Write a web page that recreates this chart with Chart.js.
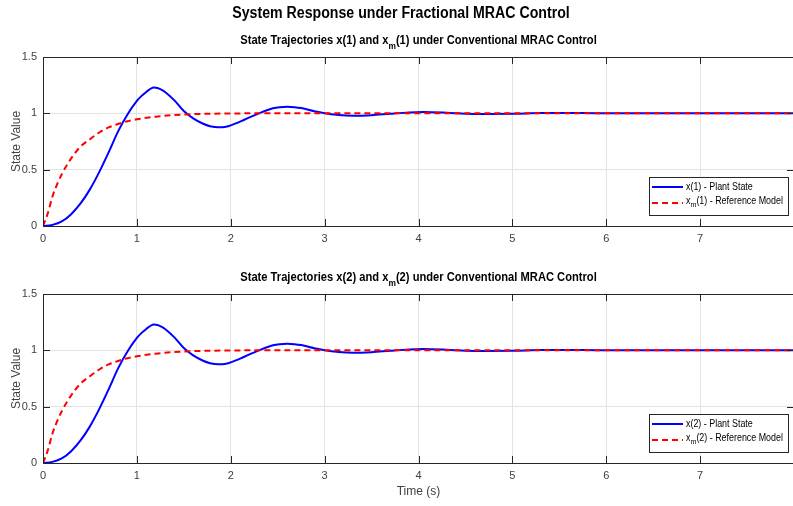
<!DOCTYPE html>
<html>
<head>
<meta charset="utf-8">
<script src="https://cdn.jsdelivr.net/npm/chart.js@4.4.1/dist/chart.umd.min.js"></script>
<style>
  html, body { margin: 0; padding: 0; background: #fff; width: 793px; height: 506px; overflow: hidden; }
  canvas { position: absolute; left: 0; top: 0; }
</style>
</head>
<body>
<canvas id="top" width="800" height="506"></canvas>
<canvas id="bottom" width="800" height="506"></canvas>
<script>
// values
const tPlant = [0, 0.1, 0.2, 0.3, 0.4, 0.5, 0.6, 0.7, 0.8, 0.9, 1.0, 1.05, 1.1, 1.14, 1.18, 1.22, 1.26, 1.3, 1.4, 1.5, 1.6, 1.7, 1.78, 1.87, 1.95, 2.0, 2.15, 2.3, 2.45, 2.52, 2.6, 2.68, 2.75, 2.9, 3.0, 3.15, 3.3, 3.5, 3.7, 3.9, 4.05, 4.3, 4.5, 4.72, 5.0, 5.3, 5.55, 5.9, 6.3, 7.0, 8.0];
const xPlant = [0, 0.01, 0.04, 0.105, 0.2, 0.325, 0.48, 0.655, 0.84, 0.99, 1.11, 1.155, 1.19, 1.215, 1.23, 1.225, 1.21, 1.19, 1.115, 1.02, 0.955, 0.91, 0.886, 0.876, 0.881, 0.893, 0.945, 1.0, 1.045, 1.055, 1.058, 1.055, 1.047, 1.017, 1.0, 0.985, 0.979, 0.984, 0.997, 1.008, 1.011, 1.005, 0.997, 0.994, 0.996, 1.002, 1.003, 1.001, 1.0, 1.0, 1.0];

const tRef = [0, 0.05, 0.1, 0.15, 0.2, 0.3, 0.4, 0.5, 0.6, 0.7, 0.8, 0.9, 1.0, 1.2, 1.4, 1.6, 1.8, 2.0, 2.5, 3.0, 8.0];
const xRef = [0, 0.11, 0.26, 0.37, 0.46, 0.6, 0.705, 0.77, 0.83, 0.875, 0.905, 0.93, 0.947, 0.97, 0.985, 0.993, 0.997, 0.999, 1.0, 1.0, 1.0];

const yTicks = [0, 0.5, 1, 1.5];
const xTicks = [0, 1, 2, 3, 4, 5, 6, 7, 8];

const FONT = '"Liberation Sans", Arial, sans-serif';
const AXIS = '#262626';

const toPoints = (t, v) => t.map((x, i) => ({ x: x, y: v[i] }));

// text with _{..} subscripts, sx squeezes it horizontally
function drawRich(ctx, str, x, y, size, bold, align, sx) {
  const parts = [];
  str.split(/(_\{[^}]*\})/).forEach((s) => {
    if (!s) return;
    if (s.startsWith("_{")) parts.push({ t: s.slice(2, -1), sub: true });
    else parts.push({ t: s, sub: false });
  });
  const font = (sub) => `${bold ? "bold " : ""}${sub ? Math.round(size * 0.78) : size}px ${FONT}`;
  let w = 0;
  parts.forEach((p) => {
    ctx.font = font(p.sub);
    p.w = ctx.measureText(p.t).width;
    w += p.w;
  });
  ctx.save();
  ctx.translate(x, y);
  ctx.scale(sx, 1);
  let cx = align === "center" ? -w / 2 : 0;
  ctx.textAlign = "left";
  ctx.textBaseline = "middle";
  parts.forEach((p) => {
    ctx.font = font(p.sub);
    ctx.fillText(p.t, cx, p.sub ? size * 0.42 : 0);
    cx += p.w;
  });
  ctx.restore();
}

const frame = {
  id: "frame",
  afterDraw(chart, args, opts) {
    const { ctx, chartArea: a, scales } = chart;
    ctx.save();
    ctx.strokeStyle = AXIS;
    ctx.lineWidth = 1;
    ctx.strokeRect(a.left + 0.5, a.top + 0.5, a.right - a.left, a.bottom - a.top);
    const len = 7;
    ctx.beginPath();
    xTicks.forEach((v) => {
      const px = Math.round(scales.x.getPixelForValue(v)) + 0.5;
      ctx.moveTo(px, a.bottom); ctx.lineTo(px, a.bottom - len);
      ctx.moveTo(px, a.top); ctx.lineTo(px, a.top + len);
    });
    yTicks.forEach((v) => {
      const py = Math.round(scales.y.getPixelForValue(v)) + 0.5;
      ctx.moveTo(a.left, py); ctx.lineTo(a.left + len, py);
      ctx.moveTo(a.right, py); ctx.lineTo(a.right - len, py);
    });
    ctx.stroke();

    // titles
    ctx.fillStyle = "#000";
    if (opts.main) drawRich(ctx, opts.main, 401, 14, 16, true, "center", 0.885);
    drawRich(ctx, opts.title, (a.left + a.right) / 2, a.top - 16, 12, true, "center", 0.93);

    // legend
    const lx = 649, ly = a.top + 120, lw = 139, lh = 38;
    ctx.fillStyle = "#fff";
    ctx.fillRect(lx, ly, lw, lh);
    ctx.strokeStyle = "#262626";
    ctx.strokeRect(lx + 0.5, ly + 0.5, lw, lh);
    ctx.lineWidth = 2;
    ctx.strokeStyle = "#0000ff";
    ctx.beginPath(); ctx.moveTo(lx + 3, ly + 10); ctx.lineTo(lx + 34, ly + 10); ctx.stroke();
    ctx.strokeStyle = "#ff0000";
    ctx.setLineDash([6, 4]);
    ctx.beginPath(); ctx.moveTo(lx + 3, ly + 26); ctx.lineTo(lx + 34, ly + 26); ctx.stroke();
    ctx.setLineDash([]);
    ctx.fillStyle = "#000";
    drawRich(ctx, opts.legend[0], lx + 37, ly + 10, 10, false, "left", 0.89);
    drawRich(ctx, opts.legend[1], lx + 37, ly + 24, 10, false, "left", 0.89);
    ctx.restore();
  },
};

function makeChart(id, top, bottom, xHeight, xTitle, frameOpts) {
  return new Chart(document.getElementById(id), {
    type: "line",
    data: {
      datasets: [
        {
          label: frameOpts.legend[1],
          data: toPoints(tRef, xRef),
          borderColor: "#ff0000",
          borderWidth: 2,
          borderDash: [6, 4],
          pointRadius: 0,
          cubicInterpolationMode: "monotone",
          order: 0,
        },
        {
          label: frameOpts.legend[0],
          data: toPoints(tPlant, xPlant),
          borderColor: "#0000ff",
          borderWidth: 2,
          pointRadius: 0,
          cubicInterpolationMode: "monotone",
          order: 1,
        },
      ],
    },
    options: {
      responsive: false,
      animation: false,
      layout: { padding: { top: top, bottom: bottom, left: 0, right: 4 } },
      plugins: { legend: { display: false }, tooltip: { enabled: false }, frame: frameOpts },
      scales: {
        x: {
          type: "linear",
          min: 0,
          max: 8,
          afterBuildTicks: (s) => { s.ticks = xTicks.map((v) => ({ value: v })); },
          afterFit: (s) => { s.height = xHeight; },
          grid: { color: "#e3e3e3", drawTicks: false },
          border: { display: false },
          ticks: {
            padding: 6,
            color: "#404040",
            font: { family: FONT, size: 11 },
            callback: (v) => (v === 8 ? "" : String(v)),
          },
          title: {
            display: !!xTitle,
            text: xTitle,
            color: "#404040",
            font: { family: FONT, size: 12 },
            padding: { top: 0, bottom: 7 },
          },
        },
        y: {
          min: 0,
          max: 1.5,
          afterBuildTicks: (s) => { s.ticks = yTicks.map((v) => ({ value: v })); },
          afterFit: (s) => { s.width = 43; },
          grid: { color: "#e3e3e3", drawTicks: false },
          border: { display: false },
          ticks: {
            padding: 6,
            color: "#404040",
            font: { family: FONT, size: 11 },
            callback: (v) => String(v),
          },
          title: {
            display: true,
            text: "State Value",
            color: "#404040",
            font: { family: FONT, size: 12 },
            padding: { top: 9, bottom: 0 },
          },
        },
      },
    },
    plugins: [frame],
  });
}

makeChart("top", 57, 260, 20, "", {
  main: "System Response under Fractional MRAC Control",
  title: "State Trajectories x(1) and x_{m}(1) under Conventional MRAC Control",
  legend: ["x(1) - Plant State", "x_{m}(1) - Reference Model"],
});

makeChart("bottom", 294, 0, 43, "Time (s)", {
  title: "State Trajectories x(2) and x_{m}(2) under Conventional MRAC Control",
  legend: ["x(2) - Plant State", "x_{m}(2) - Reference Model"],
});
</script>
</body>
</html>
